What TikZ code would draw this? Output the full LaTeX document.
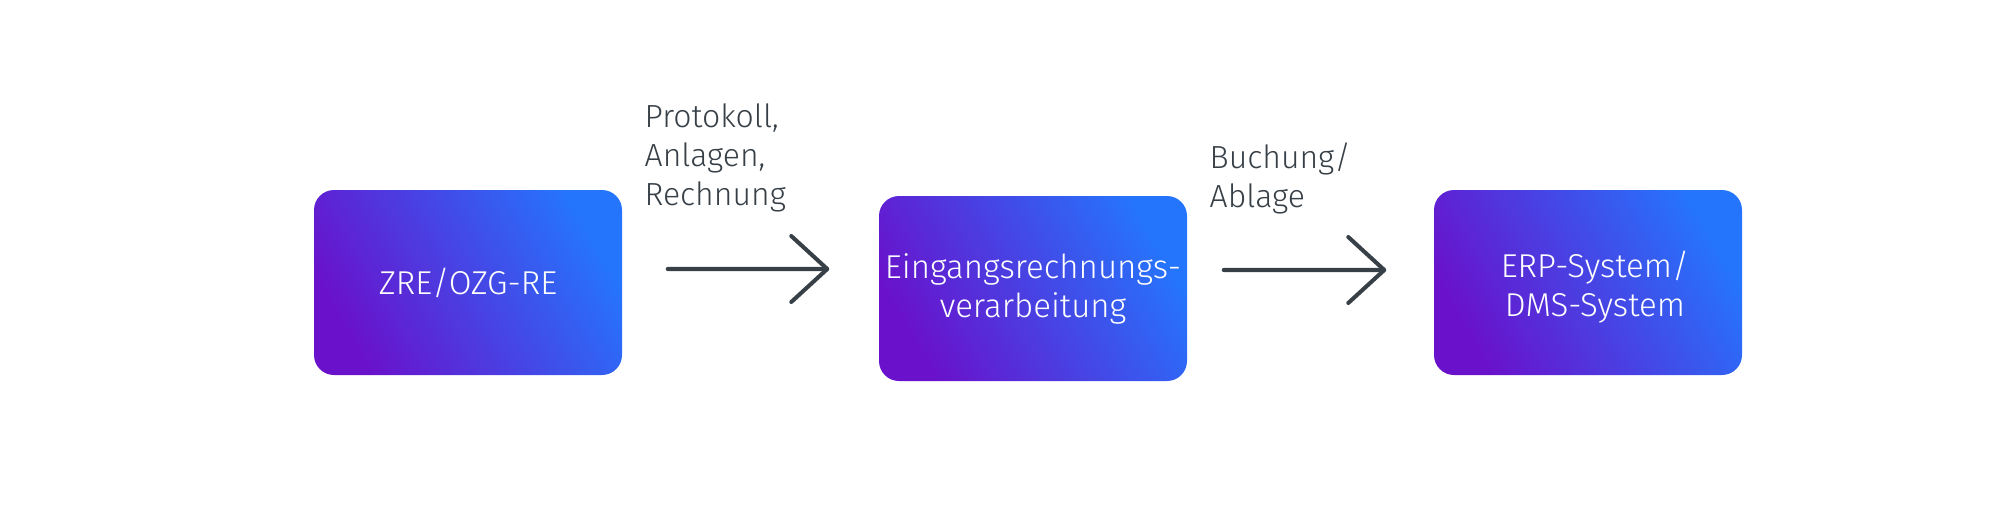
\documentclass[tikz,border=0pt]{standalone}
\usepackage{fontspec}
\setmainfont{Fira Sans Light}
\usetikzlibrary{arrows.meta,positioning}
\definecolor{flowviolet}{HTML}{6A11CB}
\definecolor{flowblue}{HTML}{2575FC}
\definecolor{slate}{HTML}{373F47}
\tikzset{
  % Kaesten
  sysbox/.style={rounded corners=2mm,minimum width=3.08cm,minimum height=1.85cm,
                 inner sep=0pt,bottom color=flowviolet,top color=flowblue,
                 shading angle=-60,text=white,align=center,
                 font=\fontsize{9.4}{11.1}\selectfont},
  % Pfeile
  flow/.style={draw=slate,line width=1.15pt,line cap=round,
               -{Straight Barb[length=3.6mm,width=6.6mm,round]}},
  flowlabel/.style={anchor=north west,inner sep=0pt,align=left,text=slate,
                    font=\fontsize{9.1}{11.1}\selectfont},
}
\begin{document}
\begin{tikzpicture}
\useasboundingbox (0,0) rectangle (20,5.07);
  \node[sysbox] (zre) at (4.68,2.245) {ZRE/OZG-RE};
  \node[sysbox] (erv) at (10.33,2.185) {Eingangsrechnungs-\\verarbeitung};
  \node[sysbox] (erp) at (15.88,2.245) {\hspace*{1.4mm}\rule{0pt}{3.5mm}ERP-System/\\\hspace*{1.4mm}DMS-System};
  \draw[flow] ([xshift=4.5mm,yshift=1.35mm]zre.east) -- ([xshift=-4.9mm,yshift=1.95mm]erv.west);
  \draw[flow] ([xshift=3.6mm,yshift=1.85mm]erv.east) -- ([xshift=-4.7mm,yshift=1.25mm]erp.west);
  \node[flowlabel] (lab1) at (6.44,4.04) {Protokoll,\\Anlagen,\\Rechnung};
  \node[flowlabel] (lab2) at (12.09,3.65) {Buchung/\\Ablage};
\end{tikzpicture}
\end{document}
